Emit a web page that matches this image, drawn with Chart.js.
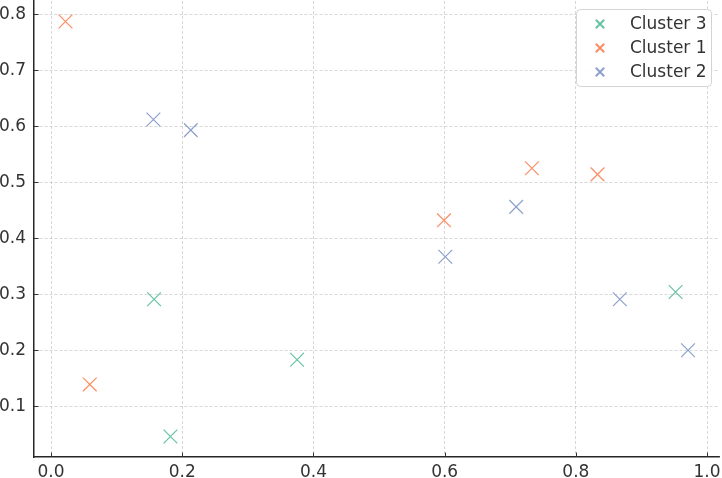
<!DOCTYPE html>
<html>
<head>
<meta charset="utf-8">
<script src="https://cdn.jsdelivr.net/npm/chart.js@4/dist/chart.umd.min.js"></script>
<style>
  html, body { margin: 0; padding: 0; background: #fff; }
  #wrap { width: 722px; height: 478px; }
</style>
</head>
<body>
<div id="wrap"><canvas id="scatterChart" width="722" height="478"></canvas></div>
<script>
// series, in legend order
const seriesNames = ['Cluster 3', 'Cluster 1', 'Cluster 2'];
const seriesColors = ['#66c2a5', '#fc8d62', '#8da0cb'];

const cluster3X = [0.157, 0.182, 0.375, 0.952];
const cluster3Y = [0.291, 0.046, 0.183, 0.304];

const cluster1X = [0.022, 0.059, 0.599, 0.733, 0.833];
const cluster1Y = [0.787, 0.139, 0.432, 0.525, 0.514];

const cluster2X = [0.156, 0.213, 0.601, 0.709, 0.867, 0.971];
const cluster2Y = [0.612, 0.593, 0.367, 0.456, 0.291, 0.200];

const xTicks = [0.0, 0.2, 0.4, 0.6, 0.8, 1.0];
const yTicks = [0.1, 0.2, 0.3, 0.4, 0.5, 0.6, 0.7, 0.8];

const FONT = "'DejaVu Sans', sans-serif";
const FONT_SIZE = 17;
const TEXT_COLOR = '#333';

function toPoints(xs, ys) {
  return xs.map((x, i) => ({ x: x, y: ys[i] }));
}

const allX = [cluster3X, cluster1X, cluster2X];
const allY = [cluster3Y, cluster1Y, cluster2Y];

// inward tick marks and tick labels (drawn here so chart.js doesn't pad the area for them)
const axisDecor = {
  id: 'axisDecor',
  afterDatasetsDraw(chart) {
    const ctx = chart.ctx;
    const xs = chart.scales.x, ys = chart.scales.y;
    const area = chart.chartArea;
    ctx.save();
    ctx.strokeStyle = '#333';
    ctx.lineWidth = 1;
    ctx.font = FONT_SIZE + 'px ' + FONT;
    ctx.fillStyle = TEXT_COLOR;

    ctx.textAlign = 'center';
    ctx.textBaseline = 'alphabetic';
    xTicks.forEach(v => {
      const px = xs.getPixelForValue(v);
      const lx = Math.round(px) + 0.5;
      ctx.beginPath();
      ctx.moveTo(lx, area.bottom);
      ctx.lineTo(lx, area.bottom - 4.5);
      ctx.stroke();
      ctx.fillText(v.toFixed(1), px, area.bottom + 19.5);
    });

    ctx.textAlign = 'right';
    ctx.textBaseline = 'middle';
    yTicks.forEach(v => {
      const py = ys.getPixelForValue(v);
      const ly = Math.round(py) + 0.5;
      ctx.beginPath();
      ctx.moveTo(area.left, ly);
      ctx.lineTo(area.left + 4.5, ly);
      ctx.stroke();
      ctx.fillText(v.toFixed(1), area.left - 8, py + 0.5);
    });
    ctx.restore();
  }
};

// legend box in the upper right corner
const cornerLegend = {
  id: 'cornerLegend',
  afterDraw(chart) {
    const ctx = chart.ctx;
    const boxW = 135, boxH = 77;
    const bx = 576, by = 9;
    ctx.save();
    ctx.beginPath();
    ctx.roundRect(bx + 0.5, by + 0.5, boxW, boxH, 4);
    ctx.fillStyle = 'rgba(255,255,255,0.92)';
    ctx.fill();
    ctx.strokeStyle = '#d4d4d4';
    ctx.lineWidth = 1;
    ctx.stroke();

    ctx.font = FONT_SIZE + 'px ' + FONT;
    ctx.textBaseline = 'middle';
    ctx.textAlign = 'left';
    chart.data.datasets.forEach((ds, i) => {
      const cy = by + 15 + i * 24;
      const cx = bx + 24;
      const r = 4.2;
      ctx.strokeStyle = ds.borderColor;
      ctx.lineWidth = 2;
      ctx.beginPath();
      ctx.moveTo(cx - r, cy - r); ctx.lineTo(cx + r, cy + r);
      ctx.moveTo(cx - r, cy + r); ctx.lineTo(cx + r, cy - r);
      ctx.stroke();
      ctx.fillStyle = TEXT_COLOR;
      ctx.fillText(ds.label, bx + 54, cy + 1);
    });
    ctx.restore();
  }
};

const ctx = document.getElementById('scatterChart').getContext('2d');

new Chart(ctx, {
  type: 'scatter',
  data: {
    datasets: seriesNames.map((name, i) => ({
      label: name,
      data: toPoints(allX[i], allY[i]),
      pointStyle: 'crossRot',
      radius: 9.7,
      borderWidth: 1.2,
      borderColor: seriesColors[i],
      backgroundColor: seriesColors[i],
      clip: false
    }))
  },
  options: {
    responsive: false,
    animation: false,
    layout: {
      autoPadding: false,
      padding: { left: 0, right: 3, top: 1, bottom: 0 }
    },
    plugins: {
      legend: { display: false },
      tooltip: { enabled: false }
    },
    scales: {
      x: {
        type: 'linear',
        min: -0.026,
        max: 1.0182,
        afterFit: s => { s.height = 21; },
        afterBuildTicks: s => { s.ticks = xTicks.map(v => ({ value: v })); },
        ticks: { display: false },
        grid: {
          color: 'rgba(190,190,190,0.75)',
          lineWidth: 0.8,
          drawTicks: false
        },
        border: { display: true, color: '#262626', width: 1.5, dash: [3, 2] }
      },
      y: {
        type: 'linear',
        min: 0.0094,
        max: 0.8236,
        afterFit: s => { s.width = 34; },
        afterBuildTicks: s => { s.ticks = yTicks.map(v => ({ value: v })); },
        ticks: { display: false },
        grid: {
          color: 'rgba(190,190,190,0.75)',
          lineWidth: 0.8,
          drawTicks: false
        },
        border: { display: true, color: '#262626', width: 1.5, dash: [3, 2] }
      }
    }
  },
  plugins: [axisDecor, cornerLegend]
});
</script>
</body>
</html>
